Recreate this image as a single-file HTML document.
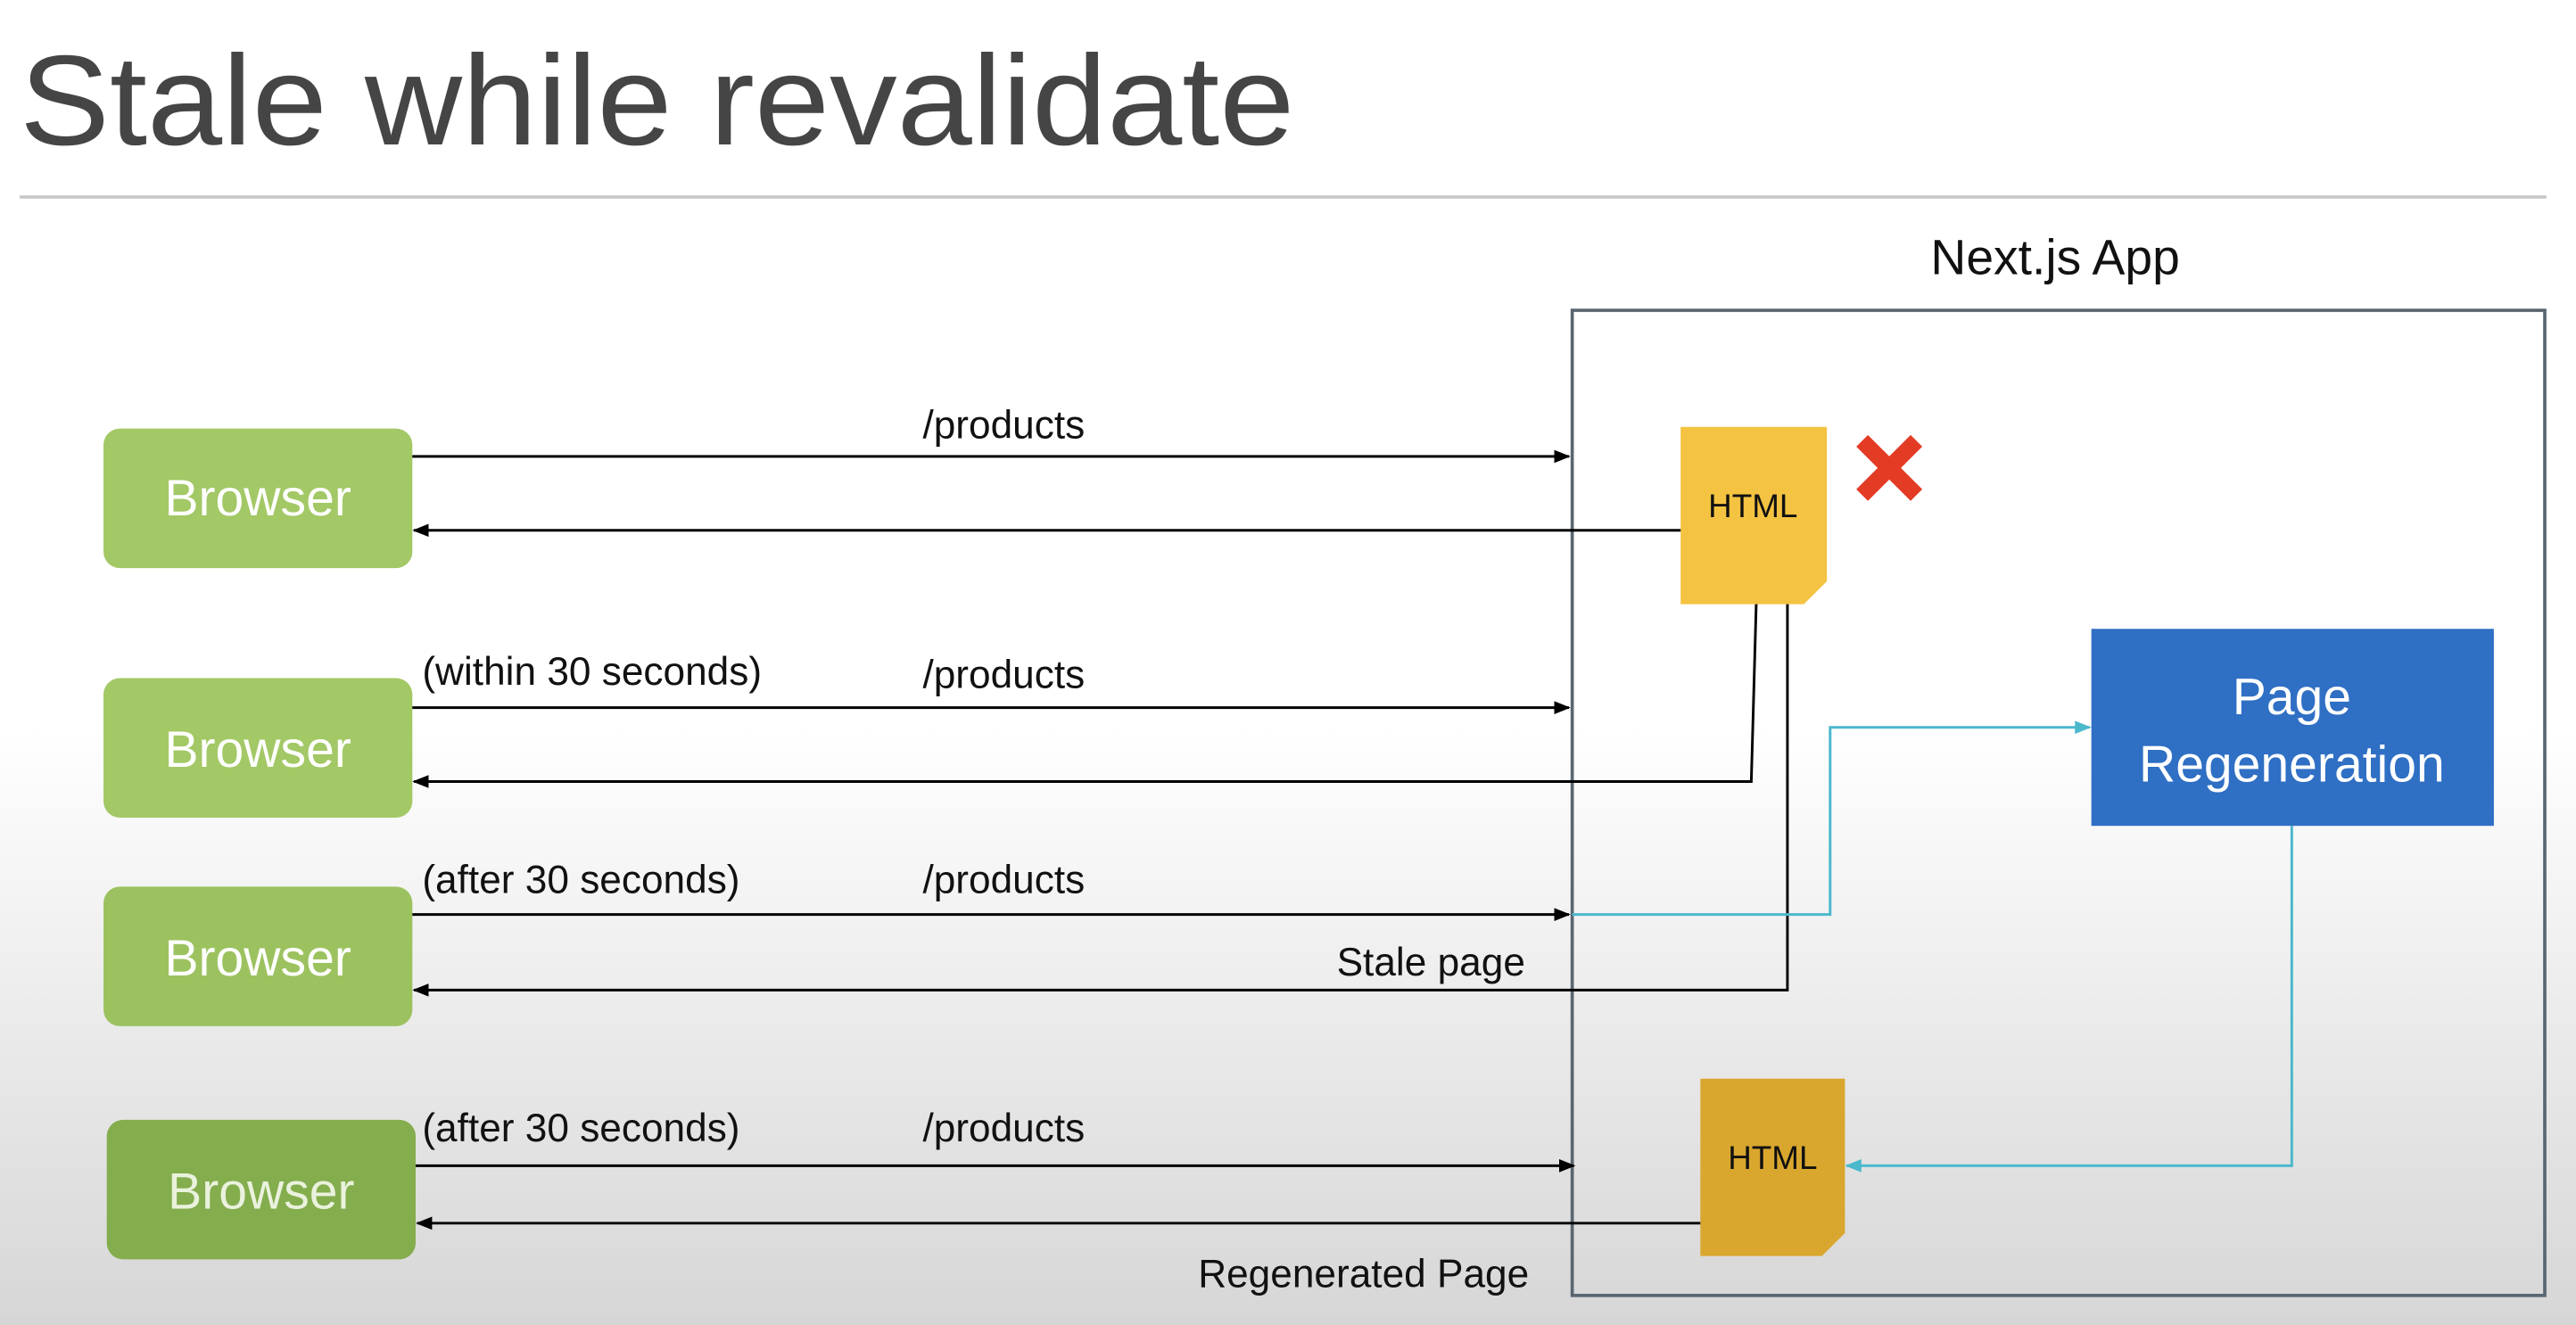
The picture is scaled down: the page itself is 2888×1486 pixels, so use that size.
<!DOCTYPE html>
<html><head><meta charset="utf-8"><style>
html,body{margin:0;padding:0;width:2888px;height:1486px;overflow:hidden;background:#fff}
svg{display:block}
text{font-family:"Liberation Sans",sans-serif}
</style></head><body>
<svg width="2888" height="1486" viewBox="0 0 1568 807" preserveAspectRatio="none" xmlns="http://www.w3.org/2000/svg">
<defs>
<linearGradient id="bg" x1="0" y1="0" x2="0" y2="1">
<stop offset="0" stop-color="#ffffff"/><stop offset="0.55" stop-color="#ffffff"/><stop offset="1" stop-color="#d6d6d6"/>
</linearGradient>
<marker id="ab" markerWidth="10" markerHeight="8" refX="9" refY="4" orient="auto" markerUnits="userSpaceOnUse"><path d="M0,0 L10,4 L0,8 z" fill="#000"/></marker>
<marker id="ac" markerWidth="10" markerHeight="8" refX="9" refY="4" orient="auto" markerUnits="userSpaceOnUse"><path d="M0,0 L10,4 L0,8 z" fill="#4bb8cc"/></marker>
</defs>
<rect width="1568" height="807" fill="url(#bg)"/>
<text x="12" y="88" font-size="78" fill="#454545" textLength="776" lengthAdjust="spacingAndGlyphs">Stale while revalidate</text>
<line x1="12" y1="120" x2="1550" y2="120" stroke="#c8c8c8" stroke-width="2"/>
<text x="1251" y="167" font-size="30" fill="#111" text-anchor="middle">Next.js App</text>
<rect x="957" y="189" width="592" height="600" fill="none" stroke="#5a6670" stroke-width="2"/>

<g font-size="31" fill="#fff" text-anchor="middle">
<rect x="63" y="261" width="188" height="85" rx="10" fill="#a3c866"/><text x="157" y="314">Browser</text>
<rect x="63" y="413" width="188" height="85" rx="10" fill="#a3c866"/><text x="157" y="467">Browser</text>
<rect x="63" y="540" width="188" height="85" rx="10" fill="#9cc260"/><text x="157" y="594">Browser</text>
<rect x="65" y="682" width="188" height="85" rx="10" fill="#84ad4e"/><text x="159" y="736" fill="#eaf2dd">Browser</text>
</g>

<path d="M1023,260 H1112 V354 L1098,368 H1023 Z" fill="#f5c342"/>
<text x="1067" y="315" font-size="20" fill="#111" text-anchor="middle">HTML</text>
<path d="M1035,657 H1123 V751 L1109,765 H1035 Z" fill="#d9a62e"/>
<text x="1079" y="712" font-size="20" fill="#111" text-anchor="middle">HTML</text>
<g stroke="#e33b24" stroke-width="10" stroke-linecap="square"><line x1="1137" y1="272" x2="1163" y2="298"/><line x1="1163" y1="272" x2="1137" y2="298"/></g>

<rect x="1273" y="383" width="245" height="120" fill="#2f6fc4"/>
<text x="1395" y="435" font-size="31" fill="#fff" text-anchor="middle">Page</text>
<text x="1395" y="476" font-size="31" fill="#fff" text-anchor="middle">Regeneration</text>

<g stroke="#000" stroke-width="1.6" fill="none">
<line x1="251" y1="278" x2="955" y2="278" marker-end="url(#ab)"/>
<line x1="1023" y1="323" x2="252" y2="323" marker-end="url(#ab)"/>
<line x1="251" y1="431" x2="955" y2="431" marker-end="url(#ab)"/>
<polyline points="1069,368 1066,476 252,476" marker-end="url(#ab)"/>
<line x1="251" y1="557" x2="955" y2="557" marker-end="url(#ab)"/>
<polyline points="1088,368 1088,603 252,603" marker-end="url(#ab)"/>
<line x1="253" y1="710" x2="958" y2="710" marker-end="url(#ab)"/>
<line x1="1035" y1="745" x2="254" y2="745" marker-end="url(#ab)"/>
</g>
<g stroke="#4bb8cc" stroke-width="1.6" fill="none">
<polyline points="957,557 1114,557 1114,443 1272,443" marker-end="url(#ac)"/>
<polyline points="1395,503 1395,710 1124,710" marker-end="url(#ac)"/>
</g>

<g font-size="24" fill="#111">
<text x="611" y="267" text-anchor="middle">/products</text>
<text x="257" y="417">(within 30 seconds)</text>
<text x="611" y="419" text-anchor="middle">/products</text>
<text x="257" y="544">(after 30 seconds)</text>
<text x="611" y="544" text-anchor="middle">/products</text>
<text x="871" y="594" text-anchor="middle">Stale page</text>
<text x="257" y="695">(after 30 seconds)</text>
<text x="611" y="695" text-anchor="middle">/products</text>
<text x="830" y="784" text-anchor="middle">Regenerated Page</text>
</g>
</svg>
</body></html>
